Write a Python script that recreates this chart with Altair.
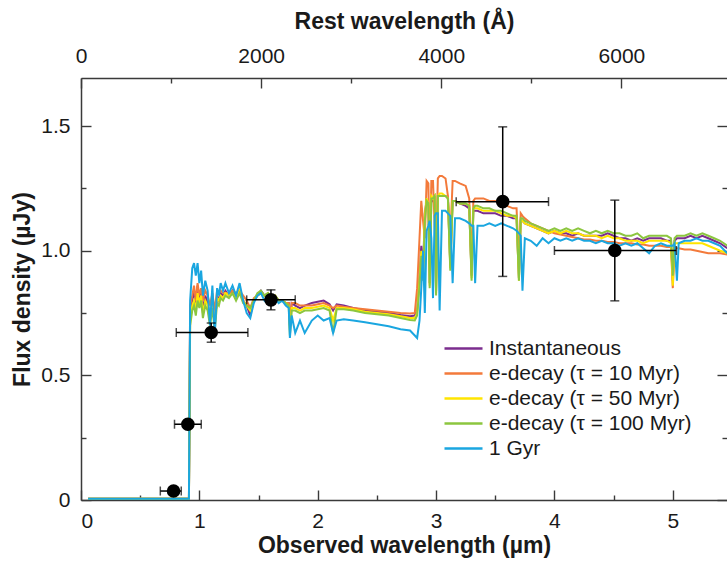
import altair as alt
import pandas as pd

ONE_PLUS_Z = 7.61

SERIES = ["Instantaneous", "e-decay (τ = 10 Myr)", "e-decay (τ = 50 Myr)",
          "e-decay (τ = 100 Myr)", "1 Gyr"]
COLORS = ["#7B2D8E", "#F37A3B", "#FFE500", "#8CC63F", "#1AA6E0"]

WAVE = [
    0.06, 0.912, 0.922, 0.94, 0.955, 0.97, 0.985, 1.00, 1.015, 1.03,
    1.05, 1.07, 1.09, 1.11, 1.13, 1.15, 1.165, 1.18, 1.20, 1.22,
    1.25, 1.28, 1.31, 1.34, 1.37, 1.40, 1.43, 1.46, 1.49, 1.52,
    1.55, 1.58, 1.61, 1.64, 1.67, 1.70, 1.73, 1.755, 1.765, 1.78,
    1.81, 1.85, 1.89, 1.95, 2.00, 2.05, 2.10, 2.13, 2.16, 2.22,
    2.30, 2.40, 2.50, 2.60, 2.70, 2.78, 2.82, 2.84, 2.86, 2.875,
    2.89, 2.905, 2.92, 2.935, 2.946, 2.96, 2.974, 2.988, 3.00, 3.015,
    3.03, 3.05, 3.08, 3.10, 3.12, 3.14, 3.16, 3.20, 3.25, 3.28,
    3.30, 3.315, 3.33, 3.35, 3.40, 3.45, 3.50, 3.55, 3.60, 3.65,
    3.68, 3.70, 3.715, 3.73, 3.75, 3.80, 3.85, 3.90, 3.95, 4.00,
    4.05, 4.10, 4.15, 4.20, 4.25, 4.30, 4.35, 4.40, 4.45, 4.50,
    4.55, 4.60, 4.65, 4.70, 4.75, 4.80, 4.85, 4.90, 4.95, 4.985,
    5.00, 5.015, 5.035, 5.05, 5.10, 5.15, 5.20, 5.25, 5.30, 5.35,
    5.40, 5.46,
]

INSTANT = [
    0.005, 0.005, 0.75, 0.80, 0.84, 0.78, 0.86, 0.80, 0.84, 0.76,
    0.82, 0.79, 0.72, 0.80, 0.70, 0.82, 0.80, 0.83, 0.82, 0.84,
    0.82, 0.84, 0.81, 0.84, 0.80, 0.78, 0.74, 0.80, 0.82, 0.84,
    0.82, 0.83, 0.81, 0.82, 0.80, 0.80, 0.79, 0.79, 0.70, 0.79,
    0.78, 0.77, 0.78, 0.79, 0.795, 0.80, 0.785, 0.76, 0.785, 0.78,
    0.77, 0.76, 0.755, 0.75, 0.742, 0.737, 0.74, 0.76, 0.90, 1.02,
    0.92, 1.15, 1.20, 1.18, 0.87, 1.21, 1.20, 1.22, 0.84, 1.22,
    1.22, 1.22, 1.22, 1.21, 0.94, 1.20, 1.20, 1.19, 1.18, 1.17,
    0.90, 1.16, 1.16, 1.16, 1.15, 1.15, 1.15, 1.14, 1.14, 1.13,
    1.13, 0.89, 1.12, 1.12, 1.11, 1.10, 1.09, 1.08, 1.07, 1.08,
    1.07, 1.07, 1.06, 1.07, 1.06, 1.06, 1.06, 1.06, 1.07, 1.06,
    1.05, 1.05, 1.04, 1.05, 1.04, 1.05, 1.05, 1.05, 1.04, 1.04,
    0.88, 1.04, 1.05, 1.05, 1.05, 1.06, 1.05, 1.06, 1.05, 1.04,
    1.03, 1.01,
]

TAU10 = [
    0.005, 0.005, 0.78, 0.82, 0.86, 0.80, 0.87, 0.82, 0.85, 0.80,
    0.84, 0.82, 0.78, 0.83, 0.76, 0.84, 0.83, 0.84, 0.83, 0.83,
    0.83, 0.84, 0.83, 0.84, 0.82, 0.80, 0.77, 0.81, 0.82, 0.83,
    0.82, 0.82, 0.81, 0.81, 0.80, 0.80, 0.79, 0.79, 0.72, 0.79,
    0.79, 0.78, 0.78, 0.78, 0.785, 0.79, 0.78, 0.77, 0.78, 0.775,
    0.77, 0.765, 0.76, 0.755, 0.75, 0.748, 0.75, 0.85, 1.05, 1.20,
    1.12, 1.05, 1.28, 1.27, 0.95, 1.28, 1.28, 1.10, 0.98, 1.29,
    1.30, 1.30, 1.29, 1.22, 1.05, 1.28, 1.28, 1.27, 1.26, 1.21,
    0.95, 1.20, 1.21, 1.21, 1.21, 1.20, 1.20, 1.19, 1.18, 1.17,
    1.17, 0.95, 1.15, 1.14, 1.13, 1.11, 1.10, 1.09, 1.08, 1.07,
    1.065, 1.06, 1.055, 1.05, 1.045, 1.045, 1.04, 1.04, 1.035, 1.035,
    1.03, 1.03, 1.03, 1.025, 1.025, 1.02, 1.02, 1.02, 1.015, 1.015,
    0.85, 1.01, 1.01, 1.01, 1.005, 1.005, 1.00, 0.995, 0.99, 0.99,
    0.99, 0.985,
]

TAU50 = [
    0.005, 0.005, 0.72, 0.78, 0.80, 0.76, 0.83, 0.79, 0.82, 0.75,
    0.80, 0.78, 0.73, 0.79, 0.71, 0.81, 0.80, 0.82, 0.81, 0.83,
    0.82, 0.83, 0.81, 0.84, 0.80, 0.78, 0.76, 0.80, 0.82, 0.83,
    0.82, 0.83, 0.81, 0.82, 0.80, 0.80, 0.79, 0.78, 0.68, 0.77,
    0.77, 0.76, 0.77, 0.77, 0.775, 0.78, 0.77, 0.72, 0.77, 0.77,
    0.765, 0.755, 0.75, 0.745, 0.737, 0.73, 0.73, 0.75, 0.88, 1.00,
    0.90, 1.14, 1.21, 1.19, 0.86, 1.22, 1.21, 1.22, 0.83, 1.22,
    1.23, 1.23, 1.22, 1.21, 0.93, 1.20, 1.20, 1.19, 1.19, 1.18,
    0.89, 1.17, 1.17, 1.17, 1.16, 1.16, 1.16, 1.15, 1.14, 1.14,
    1.13, 0.88, 1.12, 1.12, 1.11, 1.10, 1.09, 1.08, 1.07, 1.08,
    1.07, 1.08, 1.07, 1.07, 1.06, 1.06, 1.06, 1.05, 1.06, 1.05,
    1.05, 1.04, 1.04, 1.04, 1.03, 1.04, 1.04, 1.04, 1.04, 1.03,
    0.86, 1.03, 1.03, 1.03, 1.03, 1.03, 1.03, 1.03, 1.02, 1.01,
    1.00, 0.99,
]

TAU100 = [
    0.005, 0.005, 0.70, 0.76, 0.78, 0.74, 0.80, 0.77, 0.80, 0.73,
    0.78, 0.76, 0.70, 0.77, 0.68, 0.79, 0.78, 0.81, 0.80, 0.82,
    0.81, 0.83, 0.80, 0.83, 0.79, 0.78, 0.77, 0.80, 0.83, 0.84,
    0.82, 0.83, 0.81, 0.82, 0.80, 0.80, 0.79, 0.78, 0.66, 0.76,
    0.76, 0.75, 0.76, 0.76, 0.765, 0.77, 0.76, 0.67, 0.765, 0.765,
    0.76, 0.75, 0.745, 0.74, 0.73, 0.722, 0.72, 0.74, 0.86, 0.98,
    0.88, 1.12, 1.20, 1.19, 0.85, 1.21, 1.21, 1.22, 0.82, 1.22,
    1.22, 1.22, 1.22, 1.21, 0.92, 1.20, 1.20, 1.19, 1.19, 1.18,
    0.88, 1.17, 1.18, 1.18, 1.17, 1.17, 1.16, 1.16, 1.15, 1.14,
    1.14, 0.88, 1.13, 1.13, 1.12, 1.11, 1.10, 1.09, 1.08, 1.09,
    1.08, 1.09, 1.08, 1.09, 1.08, 1.07, 1.08, 1.07, 1.08, 1.07,
    1.07, 1.06, 1.06, 1.07, 1.05, 1.06, 1.06, 1.06, 1.06, 1.05,
    0.90, 1.05, 1.06, 1.06, 1.06, 1.07, 1.06, 1.07, 1.06, 1.05,
    1.04, 1.02,
]

GYR1 = [
    0.005, 0.005, 0.80, 0.93, 0.95, 0.90, 0.95, 0.87, 0.92, 0.82,
    0.88, 0.84, 0.70, 0.86, 0.66, 0.85, 0.82, 0.87, 0.84, 0.87,
    0.83, 0.86, 0.82, 0.87, 0.80, 0.75, 0.73, 0.79, 0.82, 0.83,
    0.80, 0.82, 0.79, 0.81, 0.79, 0.80, 0.78, 0.77, 0.65, 0.74,
    0.67, 0.72, 0.67, 0.72, 0.74, 0.72, 0.73, 0.67, 0.72, 0.725,
    0.72, 0.713, 0.705, 0.697, 0.685, 0.68, 0.66, 0.65, 0.72, 0.85,
    1.00, 0.75, 1.08, 1.10, 1.12, 1.05, 0.81, 1.14, 1.15, 1.15,
    0.76, 1.16, 1.16, 1.15, 1.14, 0.87, 1.13, 1.13, 1.12, 1.11,
    1.10, 1.10, 0.87, 1.10, 1.10, 1.11, 1.10, 1.11, 1.10, 1.09,
    1.08, 1.07, 1.06, 0.84, 1.05, 1.04, 1.02, 1.05, 1.03, 1.05,
    1.04, 1.05, 1.04, 1.05, 1.04, 1.04, 1.03, 1.04, 1.03, 1.03,
    1.02, 1.03, 1.02, 1.03, 1.01, 0.99, 1.02, 1.03, 1.02, 1.02,
    1.02, 1.03, 0.88, 1.03, 1.04, 1.04, 1.05, 1.04, 1.04, 1.03,
    1.02, 0.99,
]

# photometric points (observed wavelength in um, flux in uJy)
PT_X = [0.782, 0.903, 1.10, 1.605, 3.563, 4.51]
PT_Y = [0.036, 0.304, 0.672, 0.803, 1.197, 1.001]
PT_XLO = [0.67, 0.79, 0.805, 1.40, 3.17, 4.00]
PT_XHI = [0.847, 1.016, 1.41, 1.81, 3.95, 5.03]
PT_YLO = [0.030, 0.298, 0.633, 0.763, 0.897, 0.799]
PT_YHI = [0.042, 0.310, 0.710, 0.843, 1.497, 1.203]

X_TICKS = [0, 1, 2, 3, 4, 5]
X_MINOR = [0.5, 1.5, 2.5, 3.5, 4.5]
REST_TICKS = [0, 2000, 4000, 6000]
REST_MINOR = [1000, 3000, 5000]
Y_TICKS = [0, 0.5, 1.0, 1.5]
Y_MINOR = [0.25, 0.75, 1.25]

FONT = "Liberation Sans"
AX = "#3a3a3a"
TXT = "#1a1a1a"

rows = []
for name, vals in zip(SERIES, [INSTANT, TAU10, TAU50, TAU100, GYR1]):
    assert len(vals) == len(WAVE), name
    for i, (w, v) in enumerate(zip(WAVE, vals)):
        rows.append({"wave": w, "flux": v, "model": name, "i": i})
spec = pd.DataFrame(rows)

pts = pd.DataFrame({"x": PT_X, "y": PT_Y, "xlo": PT_XLO, "xhi": PT_XHI,
                    "ylo": PT_YLO, "yhi": PT_YHI})
xcaps = pd.DataFrame({"cx": PT_XLO + PT_XHI, "cy": PT_Y + PT_Y})
ycaps = pd.DataFrame({"cx": PT_X + PT_X, "cy": PT_YLO + PT_YHI})

xs = alt.Scale(domain=[0, 5.458], nice=False, zero=False)
ys = alt.Scale(domain=[0, 1.693], nice=False, zero=False)

rest_vals = [r * ONE_PLUS_Z / 10000 for r in REST_TICKS]
rest_minor = [r * ONE_PLUS_Z / 10000 for r in REST_MINOR]


def tick_axis(orient, values, size, **kw):
    base = dict(orient=orient, values=values, grid=False, domain=False,
                labels=False, title=None, tickColor=AX, tickWidth=1.4,
                tickSize=alt.ExprRef(expr=str(-size)))
    base.update(kw)
    return alt.Axis(**base)


LBL = dict(labels=True, domain=True, domainColor=AX, domainWidth=1.5,
           labelFont=FONT, labelFontSize=21, labelColor=TXT,
           titleFont=FONT, titleFontSize=23, titleFontWeight="bold",
           titleColor=TXT)

bottom_major = tick_axis(
    "bottom", X_TICKS, 10, labelPadding=20,
    labelExpr="format(datum.value, 'd')",
    title="Observed wavelength (µm)", titlePadding=3, **LBL)
left_major = tick_axis(
    "left", Y_TICKS, 10, labelPadding=21,
    labelExpr="datum.value == 0 ? '0' : format(datum.value, '.1f')",
    title="Flux density (µJy)", titlePadding=6, **LBL)
top_major = tick_axis(
    "top", rest_vals, 10, labelPadding=22, labelFlush=False,
    labelExpr=f"format(round(datum.value * 10000 / {ONE_PLUS_Z}), 'd')",
    title="Rest wavelength (Å)", titlePadding=12, **LBL)

lines = alt.Chart(spec).mark_line(strokeWidth=2, clip=True).encode(
    x=alt.X("wave:Q", scale=xs, axis=bottom_major),
    y=alt.Y("flux:Q", scale=ys, axis=left_major),
    color=alt.Color("model:N", sort=SERIES,
                    scale=alt.Scale(domain=SERIES, range=COLORS),
                    legend=alt.Legend(
                        orient="none", legendX=362, legendY=258, title=None,
                        symbolType="stroke", symbolSize=1444,
                        symbolStrokeWidth=2.5, clipHeight=25, rowPadding=0,
                        labelFont=FONT, labelFontSize=21, labelColor=TXT,
                        labelLimit=320, labelOffset=5, padding=0)),
    order=alt.Order("i:Q"),
)

xerr = alt.Chart(pts).mark_rule(color="black", strokeWidth=1.5).encode(
    x=alt.X("xlo:Q", scale=xs, axis=tick_axis("bottom", X_MINOR, 5)),
    x2="xhi:Q",
    y=alt.Y("y:Q", scale=ys, axis=tick_axis("left", Y_MINOR, 5)),
)
yerr = alt.Chart(pts).mark_rule(color="black", strokeWidth=1.5).encode(
    x=alt.X("x:Q", scale=xs, axis=top_major),
    y=alt.Y("ylo:Q", scale=ys, axis=tick_axis("right", Y_TICKS, 10)),
    y2="yhi:Q",
)
xcap = alt.Chart(xcaps).mark_tick(orient="vertical", color="black",
                                  size=9, thickness=1.5).encode(
    x=alt.X("cx:Q", scale=xs, axis=tick_axis("top", rest_minor, 5)),
    y=alt.Y("cy:Q", scale=ys, axis=tick_axis("right", Y_MINOR, 5)),
)
ycap = alt.Chart(ycaps).mark_tick(orient="horizontal", color="black",
                                  size=9, thickness=1.5).encode(
    x=alt.X("cx:Q", scale=xs, axis=None),
    y=alt.Y("cy:Q", scale=ys, axis=None),
)
dots = alt.Chart(pts).mark_circle(size=185, color="black", opacity=1).encode(
    x=alt.X("x:Q", scale=xs, axis=None),
    y=alt.Y("y:Q", scale=ys, axis=None),
)

chart = alt.layer(lines, xerr, yerr, xcap, ycap, dots).resolve_axis(
    x="independent", y="independent"
).properties(
    width=646, height=422,
    autosize=alt.AutoSizeParams(type="none"),
    padding={"left": 81, "top": 78, "right": 0, "bottom": 62},
    background="white",
).configure_view(stroke=None)

chart.save("out.html", embed_options={"renderer": "svg", "actions": False})
